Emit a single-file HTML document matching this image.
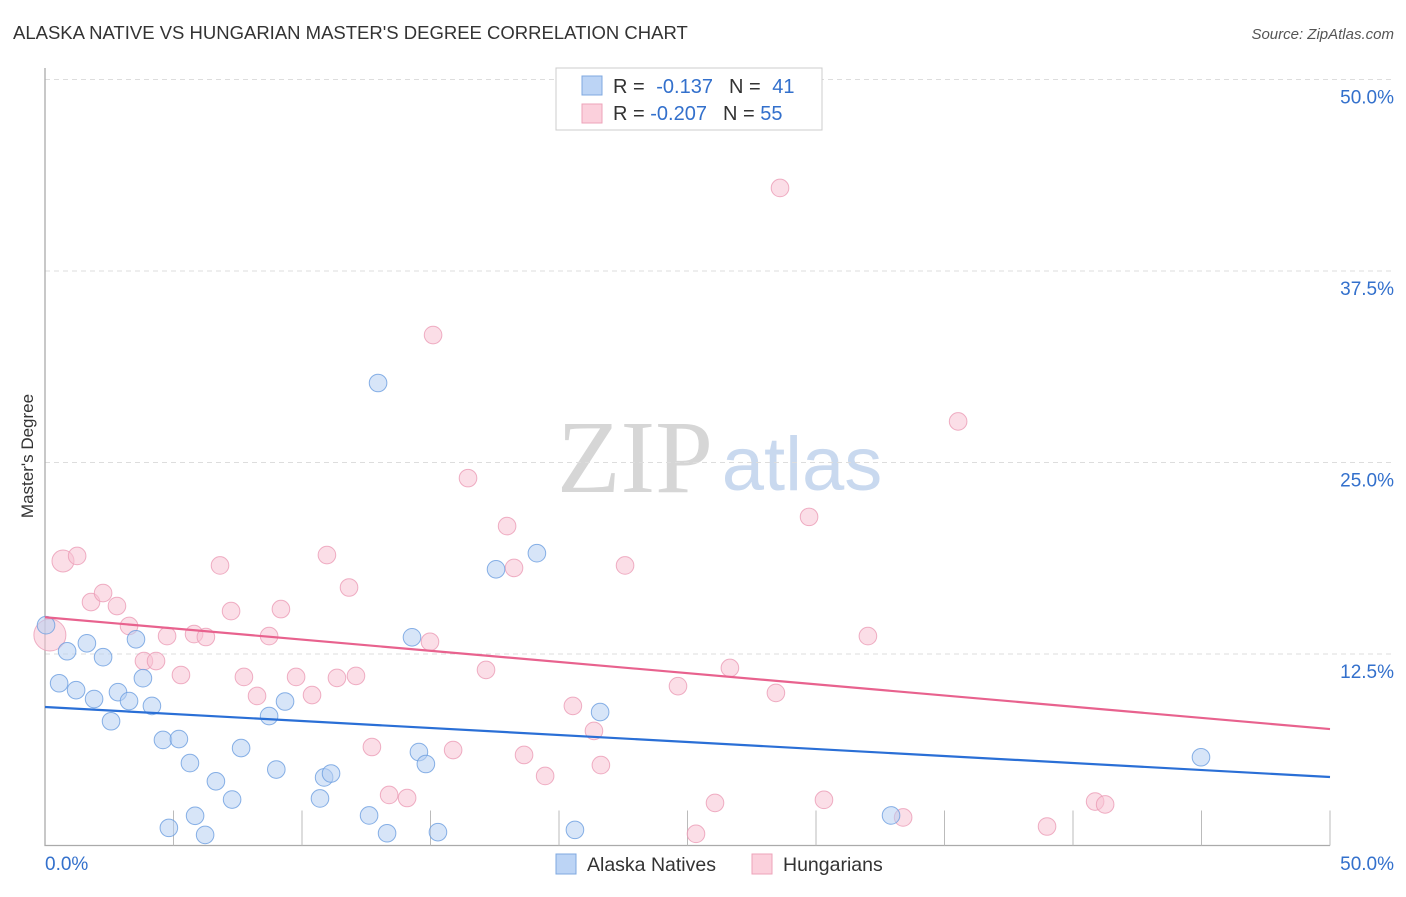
<!DOCTYPE html>
<html><head><meta charset="utf-8"><style>
body{margin:0;background:#fff;font-family:"Liberation Sans",sans-serif}
</style></head><body>
<svg id="c" width="1406" height="892" xmlns="http://www.w3.org/2000/svg" font-family="Liberation Sans, sans-serif">
<text x="13" y="39" font-size="18.5" fill="#333">ALASKA NATIVE VS HUNGARIAN MASTER'S DEGREE CORRELATION CHART</text>
<text x="1394" y="39" font-size="15" fill="#555" text-anchor="end" font-style="italic">Source: ZipAtlas.com</text>
<text transform="translate(33,456) rotate(-90)" font-size="17" fill="#333" text-anchor="middle">Master's Degree</text>
<g><text x="635" y="492" font-size="104" fill="#d6d6d6" font-family="Liberation Serif, serif" text-anchor="middle">ZIP</text><text x="802" y="490" font-size="76" fill="#c9d9ef" text-anchor="middle">atlas</text></g>
<g id="grid"></g><g id="marks"></g>
<g>
<rect x="556" y="68" width="266" height="62" fill="#fff" stroke="#ccc"/>
<rect x="582" y="76" width="20" height="19" fill="#bcd4f5" stroke="#7fa8e0"/>
<rect x="582" y="104" width="20" height="19" fill="#fbd0dc" stroke="#eea3ba"/>
<text x="613" y="93" font-size="20" fill="#333">R = <tspan fill="#3370cc" dx="6">-0.137</tspan><tspan fill="#333" dx="16">N = </tspan><tspan fill="#3370cc" dx="6">41</tspan></text>
<text x="613" y="120" font-size="20" fill="#333">R = <tspan fill="#3370cc">-0.207</tspan><tspan fill="#333" dx="16">N = </tspan><tspan fill="#3370cc">55</tspan></text>
</g>
<g>
<rect x="556" y="854" width="20" height="20" fill="#bcd4f5" stroke="#7fa8e0"/><text x="587" y="871" font-size="19.5" fill="#333">Alaska Natives</text>
<rect x="752" y="854" width="20" height="20" fill="#fbd0dc" stroke="#eea3ba"/><text x="783" y="871" font-size="19.5" fill="#333">Hungarians</text>
</g>
<text x="45" y="870" font-size="19" fill="#3370cc">0.0%</text>
<text x="1394" y="870" font-size="19" fill="#3370cc" text-anchor="end">50.0%</text>
</svg>
<script>
const yTicks=[12.5,25,37.5,50];
const yTickLabels=["12.5%","25.0%","37.5%","50.0%"];
const blueX=[0.04,0.86,0.55,1.21,1.63,1.91,2.26,2.57,2.84,3.27,3.54,3.81,4.16,4.59,5.21,5.64,4.82,5.84,6.23,6.65,7.28,7.63,8.72,9.0,9.34,10.7,10.86,11.13,12.61,13.31,12.96,14.28,14.55,14.82,15.29,17.55,19.14,20.62,21.6,32.92,44.98];
const blueY=[14.38,12.68,10.59,10.14,13.2,9.56,12.29,8.11,10.01,9.43,13.46,10.92,9.11,6.89,6.95,5.38,1.15,1.94,0.69,4.19,3.0,6.36,8.45,4.96,9.4,3.07,4.44,4.7,1.96,0.8,30.19,13.59,6.1,5.32,0.87,18.03,19.08,1.02,8.71,1.96,5.76];
const pinkX=[0.19,0.7,1.25,1.79,2.26,2.8,3.27,3.85,4.32,4.75,5.29,5.8,6.26,6.81,7.24,7.74,8.25,8.72,9.18,9.77,10.39,10.97,11.36,11.83,12.1,12.72,13.39,14.09,14.98,15.1,15.88,16.46,17.16,17.98,18.25,18.64,19.46,20.54,21.36,21.63,22.57,24.63,25.33,26.07,26.65,28.44,28.6,29.73,30.31,32.02,33.39,35.53,38.99,40.86,41.25];
const pinkY=[13.74,18.57,18.9,15.89,16.48,15.63,14.33,12.04,12.04,13.67,11.13,13.8,13.61,18.28,15.3,11.0,9.76,13.67,15.43,11.0,9.82,18.96,10.94,16.84,11.07,6.43,3.3,3.1,13.3,33.32,6.23,23.98,11.46,20.85,18.12,5.91,4.54,9.11,7.48,5.25,18.28,10.4,0.76,2.78,11.59,9.96,42.92,21.45,2.98,13.67,1.83,27.68,1.24,2.87,2.68];
const pinkR=[16,11];
const blueTrend=[9.04,4.47];
const pinkTrend=[14.9,7.6];
const X0=45,X1=1330,Y0=845.5,Y50=79.5;
const sx=v=>X0+(v/50)*(X1-X0), sy=v=>Y0-(v/50)*(Y0-Y50);
const NS="http://www.w3.org/2000/svg";
const g=document.getElementById('grid'),m=document.getElementById('marks');
function mk(tag,a,p){const e=document.createElementNS(NS,tag);for(const k in a)e.setAttribute(k,a[k]);p.appendChild(e);return e;}
yTicks.forEach((t,i)=>{
 const l=mk('line',{x1:X0,x2:1394,y1:sy(t),y2:sy(t),stroke:'#ddd','stroke-dasharray':'5,4'},g);
 
 
 const tx=mk('text',{x:1394,y:sy(t)+24,'font-size':19,fill:'#3370cc','text-anchor':'end'},g);
 tx.textContent=yTickLabels[i];
 
 
});
const ax=mk('path',{d:`M${X0} 68V${Y0}H${X1}`,stroke:'#aaa',fill:'none','stroke-width':1.3},g);


for(let i=1;i<=10;i++){const t=mk('line',{x1:sx(i*5),x2:sx(i*5),y1:Y0,y2:Y0-35,stroke:'#bbb'},g);
 
 }
function pts(xs,ys,fill,stroke,name,big){xs.forEach((x,i)=>{
 const r=(big&&i<big.length)?big[i]:8.8;
 const c=mk('circle',{cx:sx(x),cy:sy(ys[i]),r:r,fill:fill,'fill-opacity':0.55,stroke:stroke,'stroke-opacity':0.8},m);
 
 });}
pts(pinkX,pinkY,'#f8c3d3','#eb9bb5','hungarian-point',pinkR);
pts(blueX,blueY,'#b6d0f3','#6b9de0','alaska-native-point');
const lb=mk('line',{x1:sx(0),y1:sy(blueTrend[0]),x2:sx(50),y2:sy(blueTrend[1]),stroke:'#2a6fd6','stroke-width':2.2},m);


const lp=mk('line',{x1:sx(0),y1:sy(pinkTrend[0]),x2:sx(50),y2:sy(pinkTrend[1]),stroke:'#e8628e','stroke-width':2.2},m);


</script>
</body></html>
